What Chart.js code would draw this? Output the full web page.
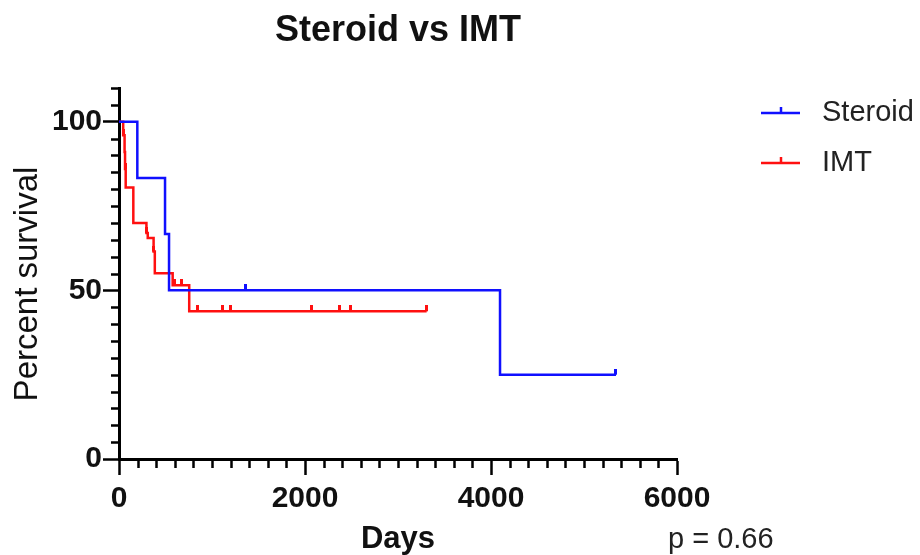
<!DOCTYPE html>
<html><head><meta charset="utf-8">
<script src="https://cdn.jsdelivr.net/npm/chart.js@4"></script>
<style>html,body{margin:0;padding:0;background:#fff;}#wrap{width:920px;height:555px;position:relative;}</style>
</head><body><div id="wrap"><canvas id="c" width="920" height="555"></canvas></div>
<script>
const chartTitle = 'Steroid vs IMT';
const xAxisTitle = 'Days';
const yAxisTitle = 'Percent survival';
const pValueText = 'p = 0.66';
const seriesNames = ['Steroid', 'IMT'];
const seriesColors = ['#1010ff', '#ff1010'];

// Kaplan-Meier steps (day, percent survival)
const steroidDays = [0, 197, 495, 538, 4097, 5344];
const steroidSurv = [100, 83.3, 66.7, 50, 25, 25];
const steroidCensorDays = [1355, 5344];
const steroidCensorSurv = [50, 25];

const imtDays = [0, 45, 60, 65, 72, 154, 295, 309, 372, 385, 577, 755, 3308];
const imtSurv = [100, 96, 91, 86, 80.5, 70, 67, 65.5, 61.5, 55.1, 51.5, 43.8, 43.8];
const imtCensorDays = [50, 68, 300, 376, 602, 674, 842, 1111, 1204, 2072, 2376, 2491, 3308];
const imtCensorSurv = [96, 86, 67, 61.5, 51.5, 51.5, 43.8, 43.8, 43.8, 43.8, 43.8, 43.8, 43.8];

const xTickValues = [0, 2000, 4000, 6000];
const yTickValues = [0, 50, 100];
const xMin = 0, xMax = 6000, xMinorStep = 200;
const yMin = 0, yMax = 110, yMinorStep = 5;

const FONT = '"Liberation Sans", Arial, Helvetica, sans-serif';

function pts(xs, ys) { return xs.map((x, i) => ({x: x, y: ys[i]})); }
function makeTick(color) {
  const c = document.createElement('canvas');
  c.width = 3; c.height = 12;
  const g = c.getContext('2d');
  g.fillStyle = color; g.fillRect(0, 0, 3, 6);
  return c;
}

const minorTicks = {
  id: 'minorTicks',
  afterDraw(chart) {
    const {ctx, chartArea, scales} = chart;
    const x = scales.x, y = scales.y;
    ctx.save();
    ctx.strokeStyle = '#000'; ctx.lineWidth = 2.5;
    ctx.beginPath();
    for (let v = xMin + xMinorStep; v < xMax; v += xMinorStep) {
      if (xTickValues.includes(v)) continue;
      const px = Math.round(x.getPixelForValue(v)) + 0.5;
      ctx.moveTo(px, chartArea.bottom); ctx.lineTo(px, chartArea.bottom + 9);
    }
    for (let v = yMin + yMinorStep; v <= yMax; v += yMinorStep) {
      if (yTickValues.includes(v)) continue;
      const py = Math.round(y.getPixelForValue(v)) + 0.5;
      ctx.moveTo(chartArea.left - 8, py); ctx.lineTo(chartArea.left, py);
    }
    ctx.stroke();
    ctx.restore();
  }
};

const texts = {
  id: 'texts',
  afterDraw(chart) {
    const {ctx, chartArea} = chart;
    ctx.save();
    ctx.fillStyle = '#111';
    ctx.textBaseline = 'middle';
    ctx.textAlign = 'center';
    ctx.font = 'bold 36px ' + FONT;
    ctx.fillText(chartTitle, (chartArea.left + chartArea.right) / 2, 31);
    // y axis title
    ctx.save();
    ctx.translate(28, 284);
    ctx.rotate(-Math.PI / 2);
    ctx.font = '33px ' + FONT;
    ctx.fillText(yAxisTitle, 0, 0);
    ctx.restore();
    // legend
    const legY = [113, 163];
    seriesNames.forEach((name, i) => {
      const yy = legY[i];
      ctx.strokeStyle = seriesColors[i];
      ctx.lineWidth = 2.5;
      ctx.beginPath();
      ctx.moveTo(761, yy); ctx.lineTo(800, yy);
      ctx.moveTo(781, yy); ctx.lineTo(781, yy - 6);
      ctx.stroke();
      ctx.fillStyle = '#222';
      ctx.textAlign = 'left';
      ctx.font = '29px ' + FONT;
      ctx.fillText(name, 822, yy);
    });
    ctx.font = '29px ' + FONT;
    ctx.textAlign = 'left';
    ctx.fillStyle = '#222';
    ctx.fillText(pValueText, 668, 540);
    ctx.restore();
  }
};

const lineDs = (label, xs, ys, color) => ({
  type: 'line', label: label, data: pts(xs, ys), stepped: 'before',
  borderColor: color, borderWidth: 2.5, pointRadius: 0, fill: false, showLine: true
});
const censorDs = (label, xs, ys, color) => ({
  type: 'scatter', label: label, data: pts(xs, ys), showLine: false,
  pointStyle: makeTick(color), pointRadius: 6, borderColor: color, backgroundColor: color
});

new Chart(document.getElementById('c'), {
  type: 'scatter',
  data: {
    datasets: [
      lineDs(seriesNames[0], steroidDays, steroidSurv, seriesColors[0]),
      lineDs(seriesNames[1], imtDays, imtSurv, seriesColors[1]),
      censorDs(seriesNames[0] + ' censored', steroidCensorDays, steroidCensorSurv, seriesColors[0]),
      censorDs(seriesNames[1] + ' censored', imtCensorDays, imtCensorSurv, seriesColors[1])
    ]
  },
  options: {
    responsive: false, animation: false, devicePixelRatio: 1,
    layout: {padding: {left: 0, right: 243, top: 88, bottom: 0}},
    plugins: {legend: {display: false}, title: {display: false}, tooltip: {enabled: false}},
    scales: {
      x: {
        type: 'linear', min: xMin, max: xMax,
        afterBuildTicks: s => { s.ticks = xTickValues.map(v => ({value: v})); },
        afterFit: s => { s.height = 96; },
        ticks: {color: '#111', font: {family: FONT, size: 30, weight: 'bold'}, padding: 6, maxRotation: 0,
                callback: v => String(v)},
        grid: {display: true, drawOnChartArea: false, drawTicks: true, tickLength: 16, tickWidth: 2.5, tickColor: '#000'},
        border: {display: true, color: '#000', width: 3},
        title: {display: true, text: xAxisTitle, color: '#111', font: {family: FONT, size: 31, weight: 'bold', lineHeight: 1}, padding: {top: 0, bottom: 0}}
      },
      y: {
        type: 'linear', min: yMin, max: yMax,
        afterBuildTicks: s => { s.ticks = yTickValues.map(v => ({value: v})); },
        afterFit: s => { s.width = 119; },
        ticks: {color: '#111', font: {family: FONT, size: 30, weight: 'bold'}, padding: 1, callback: v => String(v)},
        grid: {display: true, drawOnChartArea: false, drawTicks: true, tickLength: 16, tickWidth: 2.5, tickColor: '#000'},
        border: {display: true, color: '#000', width: 3},
        title: {display: false}
      }
    }
  },
  plugins: [minorTicks, texts]
});
</script></body></html>
